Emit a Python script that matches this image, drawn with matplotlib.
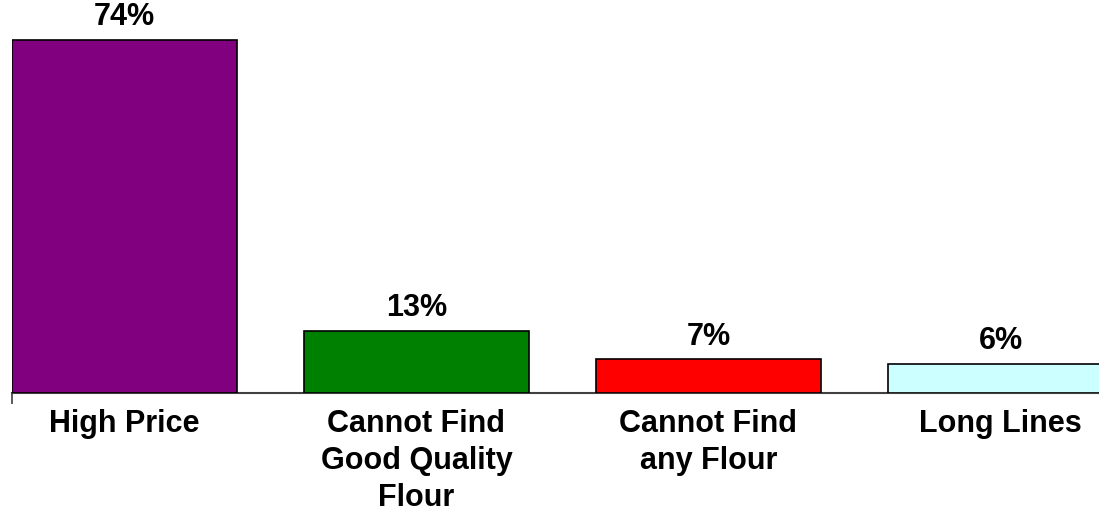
import matplotlib.pyplot as plt

categories = ['High Price', 'Cannot Find\nGood Quality\nFlour', 'Cannot Find\nany Flour', 'Long Lines']
values = [74, 13, 7, 6]
colors = ['#800080', '#008000', '#FF0000', '#CCFFFF']

plt.rcParams['font.family'] = ['Liberation Sans', 'DejaVu Sans']

fig = plt.figure(figsize=(10.99, 5.13), dpi=100)
# axes: left at x=12px, baseline at y=392.5px from top, runs off the right edge
ax = fig.add_axes([12 / 1099, (513 - 392.5) / 513, 1 - 12 / 1099, 392.5 / 513])

width = 0.77
x = range(len(categories))
ax.bar(x, values, width=width, color=colors, edgecolor='black', linewidth=1.2, zorder=3)

for i, v in enumerate(values):
    ax.annotate(f'{v}%', (i, v), xytext=(0, 5.5), textcoords='offset points',
                ha='center', va='bottom', fontsize=22, fontweight='bold')

ax.set_xlim(-width / 2, (1099 - 124.5) / 292)
ax.set_ylim(0, 392.5 / 4.764)

for s in ['top', 'right', 'left']:
    ax.spines[s].set_visible(False)
ax.spines['bottom'].set_color('#404040')
ax.spines['bottom'].set_linewidth(1.5)

ax.set_yticks([])
ax.set_xticks(list(x))
ax.set_xticklabels(categories, fontsize=22, fontweight='bold', linespacing=1.3)
ax.tick_params(axis='x', which='major', length=0, pad=12)
ax.set_xticks([-width / 2], minor=True)
ax.tick_params(axis='x', which='minor', length=8, width=1.2, color='#404040', direction='out')

fig.savefig('out.png', dpi=100)
